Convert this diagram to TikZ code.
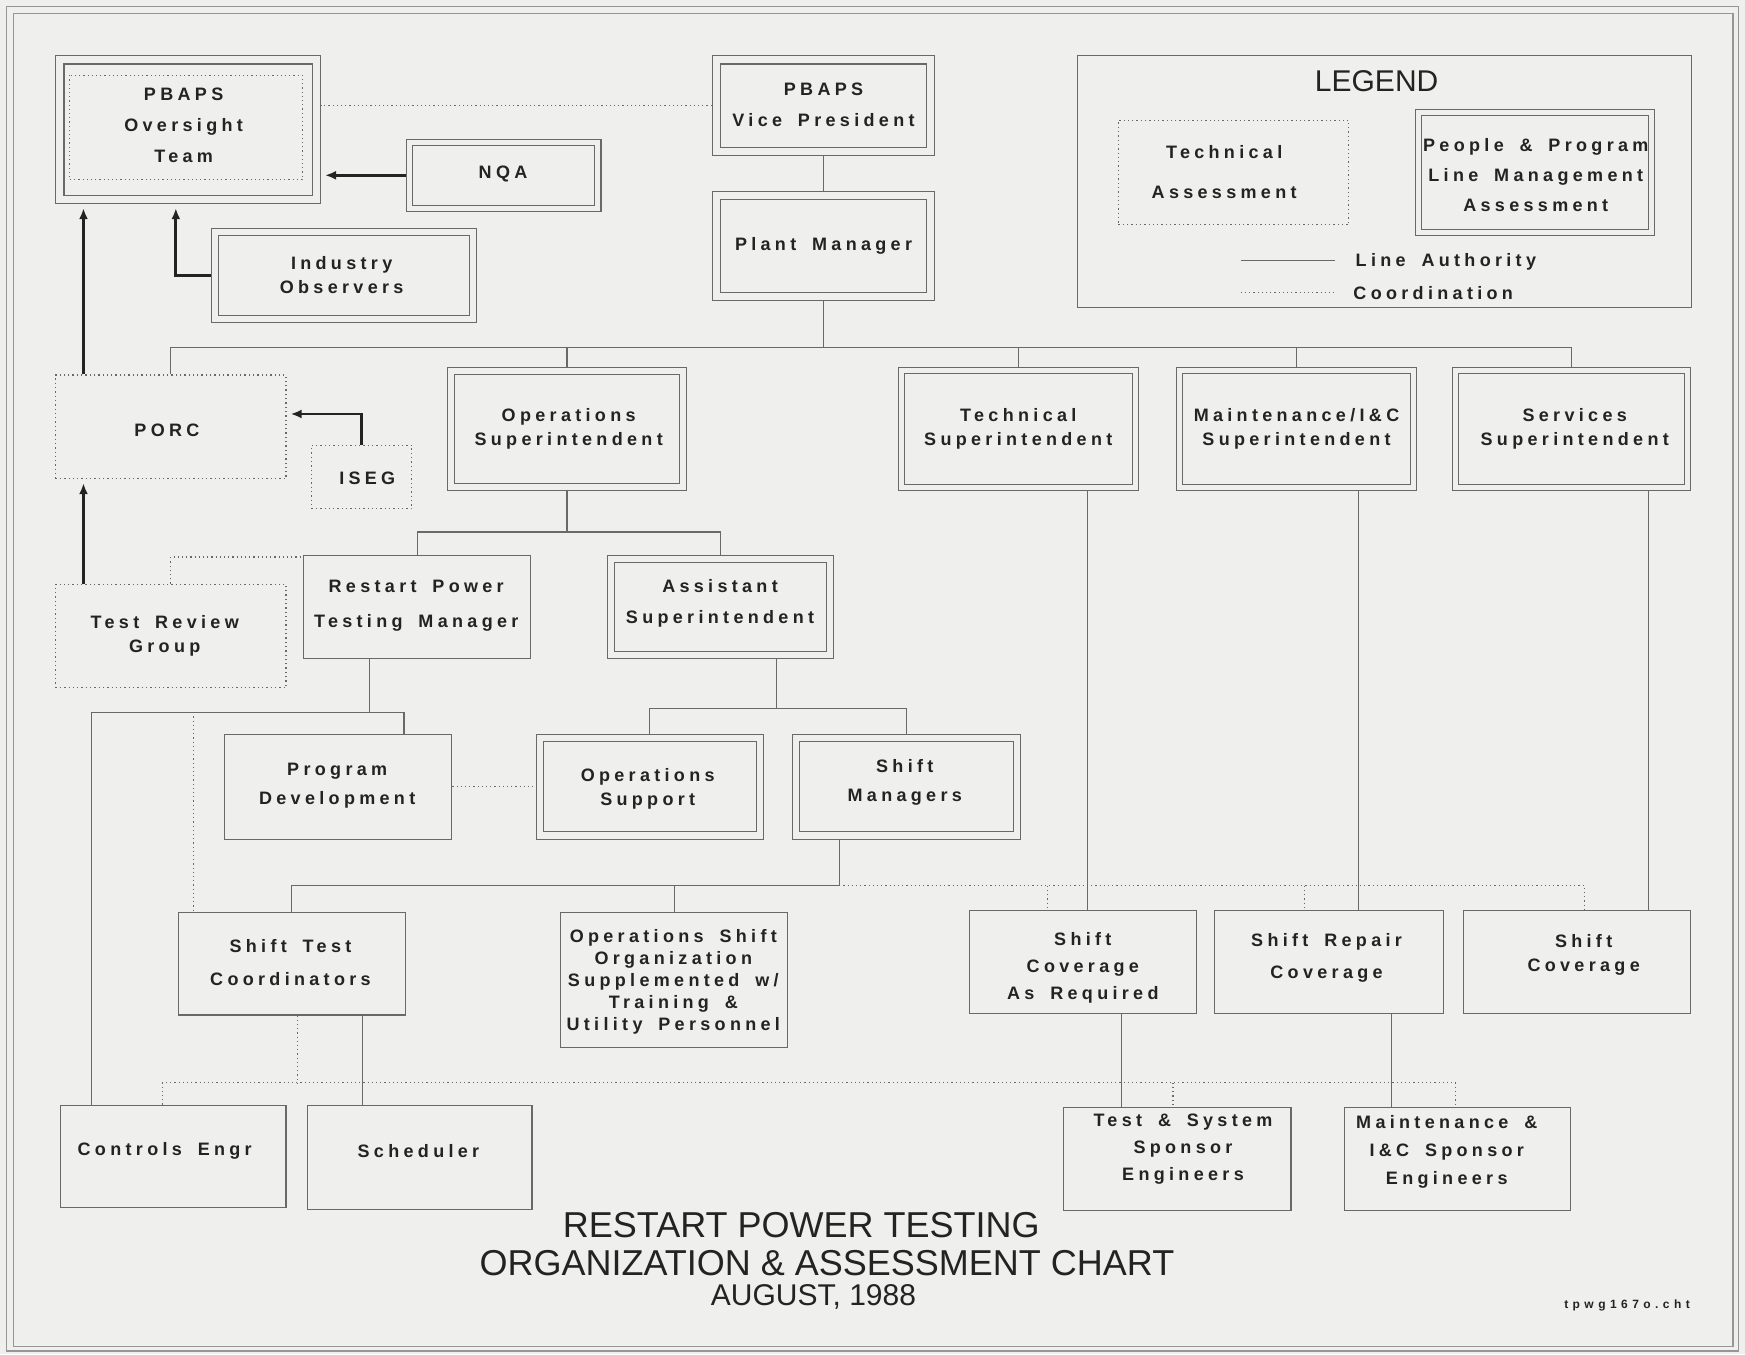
\documentclass[tikz,border=0pt]{standalone}
\usepackage{fontspec}
\setmainfont{Liberation Sans}
\newfontfamily\bxfont[LetterSpace=24,WordSpace=1.7]{Liberation Sans}
\newfontfamily\codefont[LetterSpace=37]{Liberation Sans}
\usetikzlibrary{fit,arrows.meta,calc}
\definecolor{bg}{RGB}{239,239,237}
\definecolor{lc}{RGB}{105,105,105}
\definecolor{tc}{RGB}{35,35,35}
\newcommand\dblin[2]{\draw[lc, line width=1.1pt] ([shift={(#2,#2)}]#1.north west) rectangle ([shift={(-#2,-#2)}]#1.south east);}
\tikzset{
 box/.style={draw=lc, line width=1.1pt, inner sep=0pt},
 dotbox/.style={draw=lc, line width=1.3pt, inner sep=0pt, dash pattern=on 1.3pt off 3pt},
 lbl/.style={text=tc, align=center, inner sep=0pt, font=\bxfont\bfseries\fontsize{18}{#1}\selectfont},
 lbl/.default=24,
 ln/.style={draw=lc, line width=1.1pt},
 dt/.style={draw=lc, line width=1.2pt, dash pattern=on 1.2pt off 3pt},
 arr/.style={draw=tc, line width=2.8pt, -{Latex[length=11pt,width=9pt]}, shorten >=4pt},
 ttl/.style={text=tc, inner sep=0pt, font=\fontsize{#1}{#1}\selectfont},
}
\begin{document}
\begin{tikzpicture}[x=1.1129pt, y=-1.1129pt]
\useasboundingbox (0,0) rectangle (1568,1217);
\fill[bg] (0,0) rectangle (1568,1217);
\draw[lc!70, line width=1.5pt] (6,6) rectangle (1562,1214);
\draw[lc!70, line width=1.5pt] (12,12) rectangle (1557,1210);

% top left
\node[box, fit={(50,50)(288,183)}] (ovo) {};
\dblin{ovo}{8}
\draw[dt] ([shift={(13,18)}]ovo.north west) rectangle ([shift={(-17,-22)}]ovo.south east);
\node[lbl=31] (ovoT) at (165,113) {PBAPS\\Oversight\\Team};
\node[box, fit={(365,125)(540,190)}] (nqa) {}; \dblin{nqa}{6}
\node[lbl] (nqaT) at (452,156) {NQA};
\node[box, fit={(190,205)(428,290)}] (ind) {}; \dblin{ind}{7}
\node[lbl] (indT) at (307,247) {Industry\\Observers};

% top center
\node[box, fit={(640,50)(840,140)}] (vp) {}; \dblin{vp}{8}
\node[lbl=31] (vpT) at (740,94) {PBAPS\\Vice President};
\node[box, fit={(640,172)(840,270)}] (pm) {}; \dblin{pm}{8}
\node[lbl] (pmT) at (740,221) {Plant Manager};

% legend
\node[box, fit={(968,50)(1520,276)}] (leg) {};
\node[ttl=30] (legT) at (1237,73) {LEGEND};
\node[dotbox, fit={(1005,108)(1212,202)}] (lta) {};
\node[lbl=40] (ltaT) at (1100,155) {Technical\\Assessment};
\node[box, fit={(1272,98)(1487,212)}] (lpp) {}; \dblin{lpp}{6}
\node[lbl=30] (lppT) at (1380,157) {People \& Program\\Line Management\\Assessment};
\coordinate (la1) at (1115,234); \coordinate (la2) at (1200,234);
\draw[ln] (la1) -- (la2);
\node[lbl, anchor=west] (laT) at (1218,235) {Line Authority};
\coordinate (co1) at (1115,263); \coordinate (co2) at (1200,263);
\draw[dt] (co1) -- (co2);
\node[lbl, anchor=west] (coT) at (1216,263) {Coordination};

% row 2
\node[dotbox, fit={(50,337)(257,430)}] (porc) {};
\node[lbl] (porcT) at (150,387) {PORC};
\node[dotbox, fit={(280,400)(370,457)}] (iseg) {};
\node[lbl] (isegT) at (330,430) {ISEG};
\node[box, fit={(402,330)(617,441)}] (ops) {}; \dblin{ops}{7}
\node[lbl] (opsT) at (511,385) {Operations\\Superintendent};
\node[box, fit={(807,330)(1023,441)}] (tech) {}; \dblin{tech}{6}
\node[lbl] (techT) at (915,385) {Technical\\Superintendent};
\node[box, fit={(1057,330)(1273,441)}] (mnt) {}; \dblin{mnt}{6}
\node[lbl] (mntT) at (1165,385) {Maintenance/I\&C\\Superintendent};
\node[box, fit={(1305,330)(1519,441)}] (svc) {}; \dblin{svc}{6}
\node[lbl] (svcT) at (1415,385) {Services\\Superintendent};

% row 3
\node[dotbox, fit={(50,525)(257,618)}] (trg) {};
\node[lbl] (trgT) at (148,571) {Test Review\\Group};
\node[box, fit={(273,499)(477,592)}] (rpt) {};
\node[lbl=35] (rptT) at (374,544) {Restart Power\\Testing Manager};
\node[box, fit={(546,499)(749,592)}] (asst) {}; \dblin{asst}{7}
\node[lbl=31] (asstT) at (647,542) {Assistant\\Superintendent};

% row 4
\node[box, fit={(202,660)(406,754)}] (pd) {};
\node[lbl=29] (pdT) at (303,706) {Program\\Development};
\node[box, fit={(482,660)(686,754)}] (os) {}; \dblin{os}{7}
\node[lbl] (osT) at (582,709) {Operations\\Support};
\node[box, fit={(712,660)(917,754)}] (sm) {}; \dblin{sm}{7}
\node[lbl=29] (smT) at (813,703) {Shift\\Managers};

% row 5
\node[box, fit={(160,820)(364,912)}] (stc) {};
\node[lbl=33] (stcT) at (261,865) {Shift Test\\Coordinators};
\node[box, fit={(504,820)(708,941)}] (osg) {};
\node[lbl=22] (osgT) at (605,882) {Operations Shift\\Organization\\Supplemented w/\\Training \&\\Utility Personnel};
\node[box, fit={(871,818)(1075,911)}] (sca) {};
\node[lbl=27] (scaT) at (973,870) {Shift\\Coverage\\As Required};
\node[box, fit={(1091,818)(1297,911)}] (sr) {};
\node[lbl=32] (srT) at (1192,861) {Shift Repair\\Coverage};
\node[box, fit={(1315,818)(1519,911)}] (sc) {};
\node[lbl] (scT) at (1423,858) {Shift\\Coverage};

% row 6
\node[box, fit={(54,993)(257,1085)}] (ce) {};
\node[lbl] (ceT) at (148,1034) {Controls Engr};
\node[box, fit={(276,993)(478,1087)}] (sch) {};
\node[lbl] (schT) at (376,1034) {Scheduler};
\node[box, fit={(956,995)(1160,1088)}] (ts) {};
\node[lbl=27] (tsT) at (1063,1033) {Test \& System\\Sponsor\\Engineers};
\node[box, fit={(1208,995)(1411,1088)}] (mic) {};
\node[lbl=28] (micT) at (1300,1035) {Maintenance \&\\I\&C Sponsor\\Engineers};

% title
\node[ttl=36] (t1) at (720,1101) {RESTART POWER TESTING};
\node[ttl=36] (t2) at (743,1135) {ORGANIZATION \& ASSESSMENT CHART};
\node[ttl=30] (t3) at (731,1165) {AUGUST, 1988};
\node[text=tc, inner sep=0pt, font=\codefont\bfseries\fontsize{12}{12}\selectfont] (code) at (1462,1173) {tpwg167o.cht};

% connectors
\draw[dt] (vp.west) -- (vp.west -| ovo.east);
\draw[ln] (vp.south) -- (pm.north);
\draw[arr] (nqa.west) -- (nqa.west -| ovo.east);
\draw[arr] (ind.west) -| (158,0 |- ovo.south);
\draw[arr] (75,0 |- porc.north) -- (75,0 |- ovo.south);
\draw[arr] (iseg.north) |- (porc.east |- 0,372);
\draw[arr] (75,0 |- trg.north) -- (75,0 |- porc.south);
\draw[dt] (trg.north) |- ([shift={(0,2)}]rpt.north west);

\draw[ln] (pm.south) -- (pm.south |- 0,312);
\draw[ln] (porc.north) -- (porc.north |- 0,312) -- (svc.north |- 0,312) -- (svc.north);
\draw[ln] (ops.north) -- (ops.north |- 0,312);
\draw[ln] (tech.north) -- (tech.north |- 0,312);
\draw[ln] (mnt.north) -- (mnt.north |- 0,312);

\draw[ln] (977,0 |- tech.south) -- (977,0 |- sca.north);
\draw[ln] (1221,0 |- mnt.south) -- (1221,0 |- sr.north);
\draw[ln] (1481,0 |- svc.south) -- (1481,0 |- sc.north);

\draw[ln] (ops.south) -- (ops.south |- 0,478);
\draw[ln] (rpt.north) -- (rpt.north |- 0,478) -- (asst.north |- 0,478) -- (asst.north);

\draw[ln] (332,0 |- rpt.south) -- (332,640);
\draw[ln] (82,0 |- ce.north) -- (82,640) -- (363,640) -- (363,0 |- pd.north);
\draw[dt] (174,640) -- (174,0 |- stc.north);
\draw[dt] (pd.east) -- (os.west);

\draw[ln] (698,0 |- asst.south) -- (698,637);
\draw[ln] (os.north) -- (os.north |- 0,637) -- (sm.north |- 0,637) -- (sm.north);

\draw[ln] (754,0 |- sm.south) -- (754,796) -- (stc.north |- 0,796) -- (stc.north);
\draw[ln] (osg.north) -- (osg.north |- 0,796);
\draw[dt] (754,796) -- (1424,796) -- (1424,0 |- sc.north);
\draw[dt] (941,796) -- (941,0 |- sca.north);
\draw[dt] (1172,796) -- (1172,0 |- sr.north);

\draw[ln] (326,0 |- stc.south) -- (326,0 |- sch.north);
\draw[dt] (267,0 |- stc.south) -- (267,973);
\draw[dt] (146,0 |- ce.north) -- (146,973) -- (1308,973) -- (1308,0 |- mic.north);
\draw[dt] (1054,973) -- (1054,0 |- ts.north);
\draw[ln] (1008,0 |- sca.south) -- (1008,0 |- ts.north);
\draw[ln] (1250,0 |- sr.south) -- (1250,0 |- mic.north);
\end{tikzpicture}
\end{document}
